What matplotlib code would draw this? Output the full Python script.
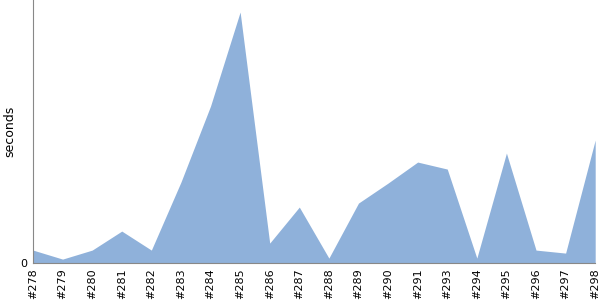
import numpy as np
import matplotlib.pyplot as plt

builds = ['#278', '#279', '#280', '#281', '#282', '#283', '#284', '#285', '#286', '#287',
          '#288', '#289', '#290', '#291', '#293', '#294', '#295', '#296', '#297', '#298']
seconds = [13, 4, 13, 32, 13, 81, 157, 251, 20, 56,
           5, 60, 80, 101, 94, 5, 110, 13, 10, 123]

fig = plt.figure(figsize=(6, 3), dpi=100)
ax = fig.add_axes([0.055, 0.123, 0.937, 0.877])

x = np.arange(len(builds))
ax.fill_between(x, 0, seconds, color='#8fb1da', linewidth=0)

ax.set_xlim(0, len(builds) - 1)
ax.set_ylim(0, 263)
ax.set_xticks(x)
ax.set_xticklabels(builds, rotation=90, fontsize=8)
ax.set_yticks([0])
ax.set_yticklabels(['0'], fontsize=8)
ax.set_ylabel('seconds', fontsize=9)
ax.yaxis.set_label_coords(-0.030, 0.5)

for s in ['top', 'right']:
    ax.spines[s].set_visible(False)
for s in ['left', 'bottom']:
    ax.spines[s].set_color('#888888')
ax.tick_params(axis='both', length=0, pad=4)

fig.savefig('out.png', dpi=100)
